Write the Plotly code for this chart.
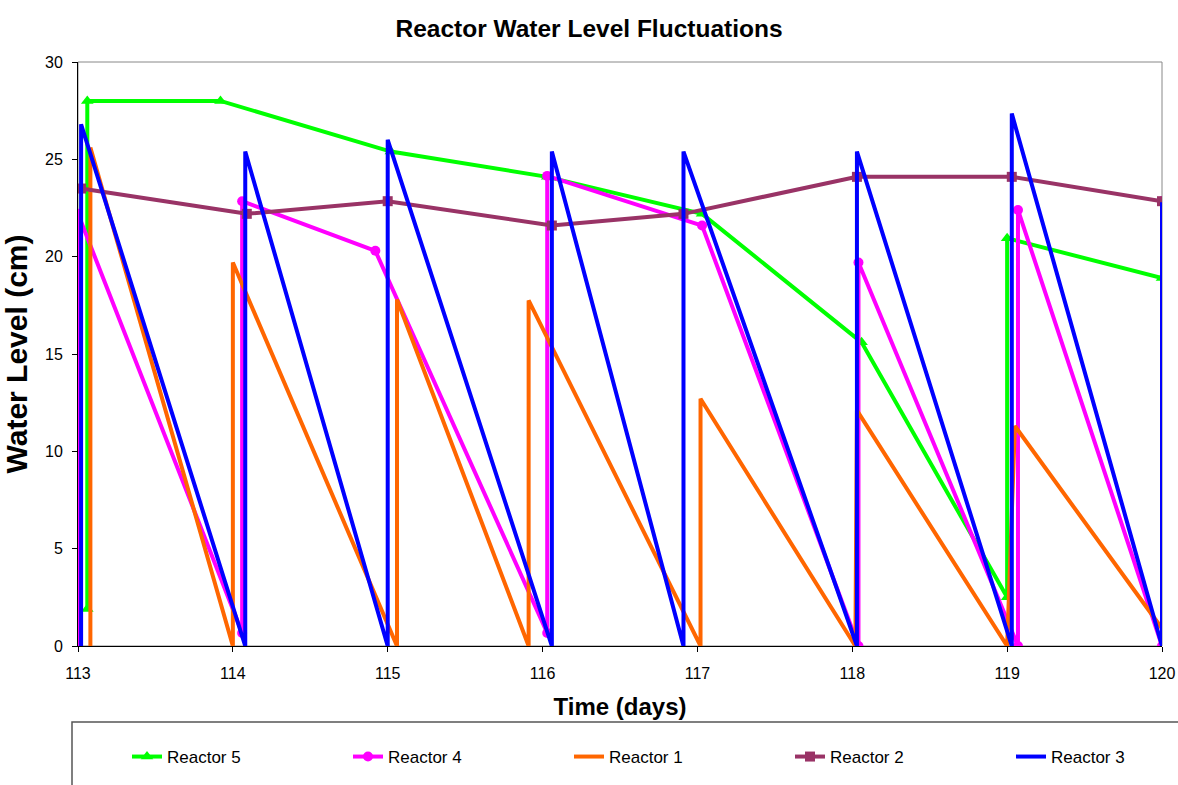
import plotly.graph_objects as go

# Reactor 5 (green, triangles)
r5_x = [113.06, 113.06, 113.92, 115.02, 116.03, 117.03, 118.06, 119.0, 119.0, 120.0]
r5_y = [1.9, 28.0, 28.0, 25.4, 24.1, 22.2, 15.6, 2.5, 20.95, 18.9]

# Reactor 4 (magenta, circles)
r4_x = [113.0, 113.0, 114.06, 114.06, 114.92, 116.03, 116.03, 117.03, 118.04, 118.04, 119.07, 119.07, 120.0, 120.0]
r4_y = [0.0, 22.2, 0.67, 22.85, 20.3, 0.67, 24.15, 21.6, 0.0, 19.7, 0.0, 22.4, 0.0, 22.85]

# Reactor 1 (orange, no markers)
r1_x = [113.08, 113.08, 114.0, 114.0, 115.06, 115.06, 115.91, 115.91, 117.02, 117.02, 118.02, 118.03, 119.0, 119.05, 120.0]
r1_y = [0.0, 25.6, 0.0, 19.7, 0.0, 17.8, 0.0, 17.75, 0.0, 12.7, 0.0, 12.1, 0.0, 11.3, 0.9]

# Reactor 2 (purple, squares)
r2_x = [113.02, 114.09, 115.0, 116.06, 116.91, 118.03, 119.03, 120.0]
r2_y = [23.5, 22.2, 22.85, 21.6, 22.2, 24.1, 24.1, 22.85]

# Reactor 3 (blue, no markers)
r3_x = [113.02, 113.02, 114.08, 114.08, 115.0, 115.0, 116.06, 116.06, 116.91, 116.91, 118.03, 118.03, 119.03, 119.03, 120.0, 120.0]
r3_y = [0.0, 26.8, 0.0, 25.4, 0.0, 26.0, 0.0, 25.4, 0.0, 25.4, 0.0, 25.4, 0.0, 27.35, 0.0, 22.8]

x_ticks = [113, 114, 115, 116, 117, 118, 119, 120]
y_ticks = [0, 5, 10, 15, 20, 25, 30]

FONT = "Liberation Sans, Arial, sans-serif"

W, H = 1178, 785
L, R, T, B = 78, 16, 62, 139
pw, ph = W - L - R, H - T - B


def px_x(p):
    return (p - L) / pw


def px_y(p):
    return (H - B - p) / ph


fig = go.Figure()
fig.add_trace(go.Scatter(x=r5_x, y=r5_y, name="Reactor 5", mode="lines+markers", legend="legend",
                         line=dict(color="#00FF00", width=4),
                         marker=dict(symbol="triangle-up", size=11, color="#00FF00")))
fig.add_trace(go.Scatter(x=r4_x, y=r4_y, name="Reactor 4", mode="lines+markers", legend="legend2",
                         line=dict(color="#FF00FF", width=4),
                         marker=dict(symbol="circle", size=10, color="#FF00FF")))
fig.add_trace(go.Scatter(x=r1_x, y=r1_y, name="Reactor 1", mode="lines", legend="legend3",
                         line=dict(color="#FF6600", width=4)))
fig.add_trace(go.Scatter(x=r2_x, y=r2_y, name="Reactor 2", mode="lines+markers", legend="legend4",
                         line=dict(color="#993366", width=4),
                         marker=dict(symbol="square", size=10, color="#993366")))
fig.add_trace(go.Scatter(x=r3_x, y=r3_y, name="Reactor 3", mode="lines", legend="legend5",
                         line=dict(color="#0000FF", width=4)))

leg_text_x = [167, 388, 609, 830, 1051]
legends = {}
for i, tx in enumerate(leg_text_x):
    key = "legend" if i == 0 else f"legend{i + 1}"
    legends[key] = dict(orientation="h", x=px_x(tx - 40), xanchor="left", y=px_y(757), yanchor="middle",
                        font=dict(size=17, family=FONT), bgcolor="rgba(0,0,0,0)", borderwidth=0)

fig.update_layout(
    width=W, height=H,
    margin=dict(l=L, r=R, t=T, b=B, autoexpand=False),
    paper_bgcolor="white", plot_bgcolor="white",
    font=dict(family=FONT, color="black", size=16),
    title=dict(text="<b>Reactor Water Level Fluctuations</b>", x=0.5, xanchor="center",
               y=1 - 28 / H, yanchor="middle", font=dict(size=24.5, family=FONT)),
    xaxis=dict(range=[113, 120], tickvals=x_ticks, ticktext=[str(v) for v in x_ticks],
               showgrid=False, zeroline=False, showline=True, linecolor="black", linewidth=1,
               ticks="outside", ticklen=5, tickcolor="black", ticklabelstandoff=8,
               automargin=False,
               title=dict(text="<b>Time (days)</b>", font=dict(size=24), standoff=16)),
    yaxis=dict(range=[0, 30], tickvals=y_ticks, showgrid=False, zeroline=False,
               showline=True, linecolor="black", linewidth=1,
               ticks="outside", ticklen=5, tickcolor="black", ticklabelstandoff=6,
               automargin=False,
               title=dict(text="<b>Water Level (cm)</b>", font=dict(size=30), standoff=12)),
    showlegend=True,
    **legends,
)

# gray frame on top/right
fig.add_shape(type="rect", xref="paper", yref="paper", x0=0, y0=0, x1=1, y1=1,
              line=dict(color="#888888", width=1), layer="below")
# legend box
fig.add_shape(type="rect", xref="paper", yref="paper",
              x0=px_x(72), x1=px_x(1190), y0=px_y(722), y1=px_y(800),
              line=dict(color="#555555", width=1.5))

fig.write_html(
    "out.html",
    config={"displayModeBar": False},
    post_script="document.body.style.margin='0';document.body.style.overflow='hidden';",
)
